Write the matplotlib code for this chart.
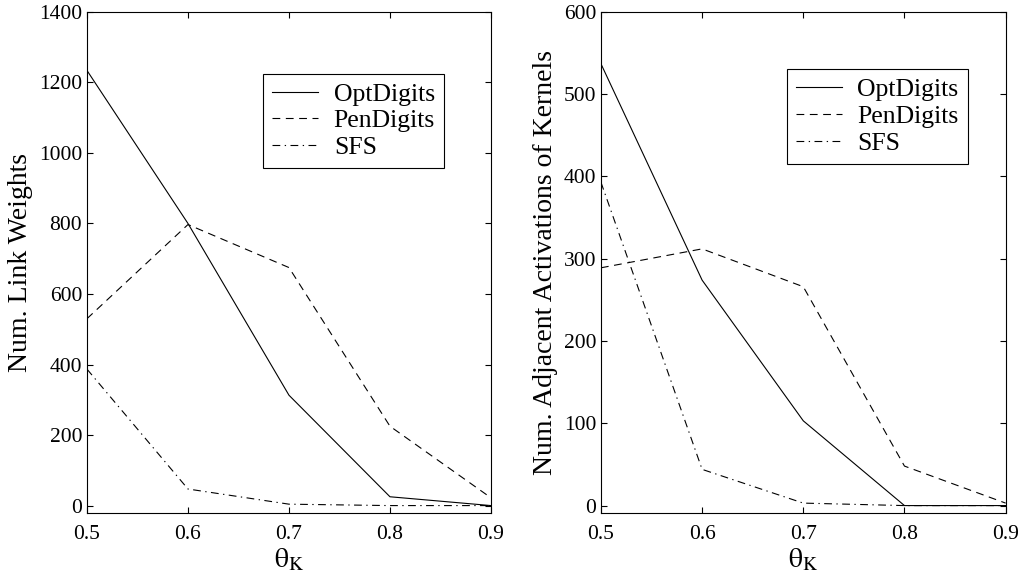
import matplotlib
matplotlib.use('Agg')
import matplotlib.pyplot as plt

# Valores
theta = [0.5, 0.6, 0.7, 0.8, 0.9]
series = ['OptDigits', 'PenDigits', 'SFS']

link_opt = [1234, 800, 313, 25, 0]
link_pen = [530, 797, 675, 225, 22]
link_sfs = [387, 47, 4, 0, 0]

adj_opt = [537, 274, 103, 0, 0]
adj_pen = [289, 312, 266, 48, 3]
adj_sfs = [393, 44, 3, 0, 0]

plt.rcParams['font.family'] = ['Liberation Serif', 'DejaVu Serif']
plt.rcParams['mathtext.fontset'] = 'stix'

estilos = ['-', (0, (7, 5)), (0, (7, 4, 1.2, 4))]


def dibujar(ax, datos, ylim, yticks, ylabel, leg_pos):
    for valores, nombre, ls in zip(datos, series, estilos):
        ax.plot(theta, valores, color='black', linestyle=ls, linewidth=0.8, label=nombre)
    ax.set_xlim(0.5, 0.9)
    ax.set_ylim(*ylim)
    ax.set_xticks(theta)
    ax.set_yticks(yticks)
    ax.tick_params(direction='in', top=True, right=True, length=4, labelsize=15.5)
    ax.tick_params(axis='x', pad=9)
    ax.tick_params(axis='y', pad=3.5)
    ax.set_ylabel(ylabel, fontsize=20, labelpad=4)
    ax.set_xlabel(r'$\mathrm{\theta}_{\mathrm{K}}$', fontsize=20, labelpad=2)
    leg = ax.legend(loc='upper left', bbox_to_anchor=leg_pos, borderaxespad=0,
                    fontsize=18.5, fancybox=False, edgecolor='black', framealpha=1,
                    handlelength=1.8, handletextpad=0.6, labelspacing=0.15,
                    borderpad=0.35)
    leg.get_frame().set_linewidth(0.8)
    for s in ax.spines.values():
        s.set_linewidth(0.8)


fig = plt.figure(figsize=(10.22, 5.84), dpi=100)
ax1 = fig.add_axes([0.0851, 0.1216, 0.3953, 0.858])
ax2 = fig.add_axes([0.588, 0.1216, 0.396, 0.858])

dibujar(ax1, [link_opt, link_pen, link_sfs], (-21, 1400), range(0, 1401, 200),
        'Num. Link Weights', (0.436, 0.877))
dibujar(ax2, [adj_opt, adj_pen, adj_sfs], (-9, 600), range(0, 601, 100),
        'Num. Adjacent Activations of Kernels', (0.459, 0.886))

fig.savefig('out.png', dpi=100)
